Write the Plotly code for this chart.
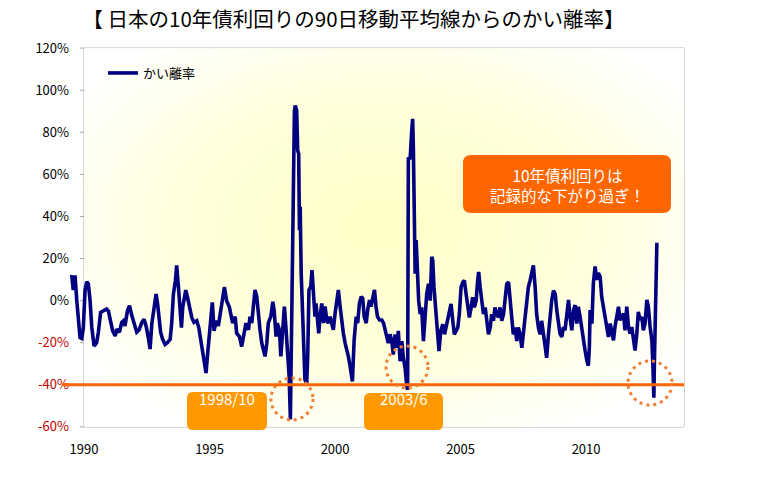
import base64
import plotly.graph_objects as go

# ---------------- data ----------------
years_1989_1995 = [
    1989.48, 1989.51, 1989.57, 1989.64, 1989.71, 1989.77, 1989.84, 1989.91, 1989.97,
    1990.04, 1990.11, 1990.17, 1990.24, 1990.31, 1990.40, 1990.50, 1990.57, 1990.66, 1990.77, 1990.90, 1990.97,
    1991.04, 1991.14, 1991.24, 1991.30, 1991.41, 1991.50, 1991.57, 1991.63, 1991.73, 1991.81, 1991.90, 1991.99,
    1992.10, 1992.19, 1992.30, 1992.39, 1992.47, 1992.56, 1992.63, 1992.70, 1992.79, 1992.87, 1992.93,
    1993.00, 1993.05, 1993.13, 1993.23, 1993.32, 1993.43, 1993.49, 1993.56, 1993.64, 1993.69, 1993.76, 1993.82, 1993.88, 1993.93, 1993.98,
    1994.05, 1994.12, 1994.20, 1994.29, 1994.38, 1994.49, 1994.57, 1994.65, 1994.73, 1994.79, 1994.86, 1994.91, 1994.99,
    1995.05, 1995.11, 1995.18, 1995.26, 1995.35, 1995.44, 1995.52, 1995.59, 1995.68, 1995.79,
]
dev_1989_1995 = [
    11, 12, 5, 12, 0, -8, -17.6, -18, -13,
    5, 9, 8, 0, -13, -21.6, -20, -15, -5.6, -4.8, -4, -5,
    -9.6, -14.4, -16.8, -13.6, -15, -10.4, -9.6, -12, -4.8, -2.4, -7, -11,
    -15, -14, -10.4, -8.8, -12, -17.6, -23, -11, -4, 3.2, -1.6,
    -8, -15, -18.4, -20.8, -20, -18.4, -11, 3.2, 9.6, 16.8, 6.4, -7.2, -12.8, -3.2, 0.8,
    5, 1.6, -4, -8, -10.4, -9.6, -12.8, -19, -25.6, -31, -34.4, -27, -16,
    -5.6, -0.8, -14.4, -9.6, -12, -4, 1.6, 6.4, 0, -3.2,
]

years_1995_2002 = [
    1995.92,
    1996.02, 1996.08, 1996.19, 1996.28, 1996.35, 1996.45, 1996.55, 1996.61, 1996.68, 1996.75, 1996.81, 1996.88, 1996.95,
    1997.01, 1997.08, 1997.15, 1997.21, 1997.28, 1997.34, 1997.44, 1997.52, 1997.57, 1997.65, 1997.70, 1997.78, 1997.84, 1997.92, 1997.98,
    1998.03, 1998.10, 1998.17, 1998.22, 1998.27, 1998.31, 1998.38, 1998.41, 1998.47, 1998.51, 1998.55, 1998.58, 1998.61, 1998.65, 1998.69, 1998.74, 1998.80, 1998.87, 1998.91, 1998.96,
    1999.03, 1999.08, 1999.14, 1999.20, 1999.24, 1999.30, 1999.35, 1999.40, 1999.47, 1999.54, 1999.60, 1999.67, 1999.73, 1999.80, 1999.87, 1999.93,
    2000.00, 2000.07, 2000.13, 2000.20, 2000.27, 2000.33, 2000.40, 2000.47, 2000.53, 2000.60, 2000.69, 2000.76, 2000.84, 2000.90, 2000.97,
    2001.04, 2001.10, 2001.16, 2001.24, 2001.30, 2001.37, 2001.43, 2001.50, 2001.57, 2001.63, 2001.69, 2001.77, 2001.86, 2001.93, 2001.99,
    2002.06, 2002.12,
]
dev_1995_2002 = [
    -10.7,
    -7.6, -15.5, -17.1, -21.8, -17.1, -10.7, -13.9, -7.6, -10.7, -1.3, 5.1, 1.9, -7.6,
    -13.9, -20.2, -23.4, -26.5, -20.2, -10.7, -7.6, -0.5, -4.4, -17.1, -10.7, -13.9, -26.5, -13.9, -2.8,
    -10.7, -26.5, -36.0, -56.5, -5, 27, 90, 92.7, 90.4, 71.4, 69.8, 33.5, 44.6, 13.0, -1.3, -26.5, -37.6, -39.2, -26.5, 5.1,
    6.6, 14.5, 1.9, -7.6, -1.3, -10.7, -15.5, -7.6, -1.3, -10.7, -2.8, -9.2, -10.7, -7.6, -10.7, -13.9,
    -6.0, -1.3, 5.1, -2.8, -10.7, -15.5, -20.2, -23.4, -26.5, -31.3, -38.4, -18.6, -7.6, -10.7, -1.3,
    1.9, 1.1, -7.6, -10.7, -4.4, 0.3, -2.8, 1.9, 5.1, -2.8, -7.6, -9.2, -9.2, -10.7, -13.9,
    -17.1, -20.2,
]

years_2002_2008 = [
    2002.19, 2002.26, 2002.32, 2002.39, 2002.46, 2002.52, 2002.59, 2002.66, 2002.72, 2002.79, 2002.85, 2002.89, 2002.92, 2002.99,
    2003.05, 2003.09, 2003.12, 2003.15, 2003.19, 2003.23, 2003.28, 2003.33, 2003.39, 2003.45, 2003.52, 2003.59, 2003.65, 2003.72, 2003.79, 2003.85, 2003.89, 2003.94,
    2004.01, 2004.08, 2004.14, 2004.21, 2004.29, 2004.36, 2004.42, 2004.49, 2004.55, 2004.62, 2004.69, 2004.75, 2004.82, 2004.89, 2004.95,
    2005.02, 2005.09, 2005.15, 2005.22, 2005.29, 2005.35, 2005.42, 2005.48, 2005.55, 2005.62, 2005.68, 2005.72, 2005.78, 2005.84, 2005.91, 2005.98,
    2006.04, 2006.11, 2006.18, 2006.24, 2006.31, 2006.37, 2006.44, 2006.51, 2006.57, 2006.64, 2006.71, 2006.77, 2006.84, 2006.91, 2006.97,
    2007.04, 2007.10, 2007.17, 2007.24, 2007.30, 2007.37, 2007.44, 2007.50, 2007.57, 2007.64, 2007.70, 2007.77, 2007.84, 2007.90, 2007.97,
    2008.03, 2008.10, 2008.17, 2008.23, 2008.30, 2008.37, 2008.43, 2008.50, 2008.57, 2008.63, 2008.70, 2008.77,
]
dev_2002_2008 = [
    -16, -19.2, -25.6, -16, -22.4, -14.4, -28.8, -19.2, -27.2, -32, -40, -42.4, 68, 67.2,
    80, 86.4, 72, 35.2, 12.8, 28.8, 6.4, 0, -6.4, -3.2, -19.2, -8, 3.2, 8, 0, 20.8, 19.2, 6.4,
    -3.2, -16, -24, -14.4, -11.2, -16, -12.8, -8, -6.4, -1.6, -9.6, -16, -14.4, -12.8, -6.4,
    6.4, 8.8, 9.6, 3.2, -1.6, -8, -3.2, 1.6, -3.2, 0, 9.6, 13.6, 6.4, 0, -6.4, -3.2,
    -8, -16, -12.8, -6.4, -9.6, -3.2, -6.4, -8, -3.2, -9.6, -6.4, 0, 8, 8.8, 0,
    -9.6, -16, -12.8, -19.2, -12.8, -16, -22.4, -16, -9.6, -3.2, 6.4, 9.6, 12.8, 16.8, 6.4,
    -6.4, -12.8, -16, -9.6, -16, -19.2, -27.2, -16, -6.4, 0, 4.8, 3.2,
]

years_2008_2013 = [
    2008.83, 2008.90, 2008.96,
    2009.03, 2009.10, 2009.16, 2009.23, 2009.30, 2009.36, 2009.43, 2009.50, 2009.56, 2009.63, 2009.69, 2009.76, 2009.83, 2009.89, 2009.96,
    2010.03, 2010.09, 2010.13, 2010.16, 2010.23, 2010.29, 2010.36, 2010.42, 2010.49, 2010.56, 2010.62, 2010.69, 2010.76, 2010.82, 2010.89, 2010.96,
    2011.02, 2011.09, 2011.15, 2011.22, 2011.29, 2011.35, 2011.42, 2011.49, 2011.55, 2011.62, 2011.69, 2011.75, 2011.82, 2011.89, 2011.95,
    2012.02, 2012.08, 2012.15, 2012.22, 2012.28, 2012.35, 2012.42, 2012.48, 2012.55, 2012.62, 2012.66, 2012.70, 2012.72, 2012.76, 2012.79, 2012.82,
]
dev_2008_2013 = [
    -4.5, -10.9, -15.7,
    -17.3, -12.5, -14.1, -6.1, 0.3, -7.7, -14.1, -4.5, -2.1, -10.9, -2.9, -7.7, -14.1, -18.9, -23.7,
    -28.5, -30.9, -22.1, -4.5, -10.9, 8.3, 16.3, 9.9, 13.1, 11.5, 1.9, -2.9, -9.3, -14.1, -17.3, -10.9,
    -14.1, -18.9, -12.5, -6.1, -2.9, -9.3, -7.7, -6.1, -14.1, -2.9, -12.5, -15.7, -12.5, -18.9, -23.7,
    -15.7, -5.3, -9.3, -7.7, -14.1, -10.9, 0.3, -2.9, -12.5, -18.9, -30.1, -46.1, -30.1, 1.9, 14.7, 27.5,
]

years = years_1989_1995 + years_1995_2002 + years_2002_2008 + years_2008_2013
deviation = dev_1989_1995 + dev_1995_2002 + dev_2002_2008 + dev_2008_2013

series_name = "かい離率"
y_ticks = [120, 100, 80, 60, 40, 20, 0, -20, -40, -60]
y_tick_labels = ["120%", "100%", "80%", "60%", "40%", "20%", "0%", "-20%", "-40%", "-60%"]
x_ticks = [1990, 1995, 2000, 2005, 2010]
x_tick_labels = ["1990", "1995", "2000", "2005", "2010"]
threshold = -40
title_text = "【 日本の10年債利回りの90日移動平均線からのかい離率】"
callout_text = "10年債利回りは<br>記録的な下がり過ぎ！"
label_1998 = "1998/10"
label_2003 = "2003/6"

# ---------------- layout geometry ----------------
W, H = 767, 478
L, R, T, B = 70, 81, 46, 49
PW, PH = W - L - R, H - T - B
x_range = [1989.44, 2013.98]
y_range = [-61, 121]
x_left_axis = 1990
x_right_edge = 2013.90
FONT = "Noto Sans CJK JP"


def px_to_x(px):
    return x_range[0] + (px - L) / PW * (x_range[1] - x_range[0])


def py_to_y(py):
    return y_range[1] - (py - T) / PH * (y_range[1] - y_range[0])


def py_to_paper(py):
    return 1 - (py - T) / PH


def px_to_paper(px):
    return (px - L) / PW


def rounded_box(px0, py0, px1, py1, r):
    # path in x-data / y-paper coordinates
    X = px_to_x
    Y = py_to_paper
    return (f"M {X(px0 + r)},{Y(py0)} L {X(px1 - r)},{Y(py0)} Q {X(px1)},{Y(py0)} {X(px1)},{Y(py0 + r)} "
            f"L {X(px1)},{Y(py1 - r)} Q {X(px1)},{Y(py1)} {X(px1 - r)},{Y(py1)} "
            f"L {X(px0 + r)},{Y(py1)} Q {X(px0)},{Y(py1)} {X(px0)},{Y(py1 - r)} "
            f"L {X(px0)},{Y(py0 + r)} Q {X(px0)},{Y(py0)} {X(px0 + r)},{Y(py0)} Z")


NEG = "#C00000"
tick_text = [
    (f"<span style='color:{NEG}'>{t}</span>" if v < 0 else t)
    for v, t in zip(y_ticks, y_tick_labels)
]

fig = go.Figure()
fig.add_trace(go.Scatter(
    x=years, y=deviation, mode="lines", name=series_name,
    line=dict(color="#000080", width=3.6),
    hoverinfo="skip",
))

shapes = []
GRID = "#BDBDBD"
FRAME = "#A6A6A6"
for v in y_ticks:
    if v in (120, -60, 0):
        shapes.append(dict(type="line", xref="x", yref="y", x0=x_left_axis, x1=x_right_edge, y0=v, y1=v,
                           line=dict(color=FRAME, width=1), layer="below"))
    else:
        shapes.append(dict(type="line", xref="x", yref="y", x0=x_left_axis, x1=x_right_edge, y0=v, y1=v,
                           line=dict(color=GRID, width=1, dash="3px,3px"), layer="below"))
    shapes.append(dict(type="line", xref="x", yref="y", x0=px_to_x(80), x1=x_left_axis, y0=v, y1=v,
                       line=dict(color=FRAME, width=1), layer="below"))
for xv in x_ticks[1:]:
    shapes.append(dict(type="line", xref="x", yref="y", x0=xv, x1=xv, y0=-60, y1=120,
                       line=dict(color=GRID, width=1, dash="3px,3px"), layer="below"))
for xv in (x_left_axis, x_right_edge):
    shapes.append(dict(type="line", xref="x", yref="y", x0=xv, x1=xv, y0=-60, y1=120,
                       line=dict(color=FRAME, width=1), layer="below"))

# -40% threshold line
shapes.append(dict(type="line", xref="paper", yref="y", x0=px_to_paper(62), x1=px_to_paper(684),
                   y0=threshold, y1=threshold, line=dict(color="#FF6600", width=3), layer="above"))

# dotted circles
DOT = "#F07D32"
for cx, cy, r in [(292, 399, 21), (407, 367, 21), (650, 383, 22)]:
    shapes.append(dict(type="circle", xref="x", yref="y",
                       x0=px_to_x(cx - r), x1=px_to_x(cx + r), y0=py_to_y(cy + r), y1=py_to_y(cy - r),
                       line=dict(color=DOT, width=3, dash="3px,4px"), layer="above"))

# boxes
shapes.append(dict(type="path", xref="x", yref="paper", path=rounded_box(463, 155, 671, 213, 8),
                   fillcolor="#FF6600", line=dict(width=0), layer="above"))
shapes.append(dict(type="path", xref="x", yref="paper", path=rounded_box(187, 392, 267, 430, 6),
                   fillcolor="#FF9900", line=dict(width=0), layer="above"))
shapes.append(dict(type="path", xref="x", yref="paper", path=rounded_box(364, 393, 443, 430, 6),
                   fillcolor="#FF9900", line=dict(width=0), layer="above"))

annotations = [
    dict(x=px_to_x(567), y=py_to_paper(185), xref="x", yref="paper", text=callout_text,
         showarrow=False, align="center", font=dict(family=FONT, size=15.5, color="white")),
    dict(x=px_to_x(227), y=py_to_paper(411), xref="x", yref="paper", text=label_1998,
         showarrow=False, font=dict(family=FONT, size=15, color="white")),
    dict(x=px_to_x(404), y=py_to_paper(411), xref="x", yref="paper", text=label_2003,
         showarrow=False, font=dict(family=FONT, size=15, color="white")),
]

svg = ('<svg xmlns="http://www.w3.org/2000/svg" width="600" height="380" viewBox="0 0 600 380" '
       'preserveAspectRatio="none"><defs><radialGradient id="g" cx="0.5" cy="0.47" r="0.62">'
       '<stop offset="0" stop-color="#FFFFC6"/><stop offset="0.55" stop-color="#FFFFDC"/>'
       '<stop offset="1" stop-color="#FFFFFF"/></radialGradient></defs>'
       '<rect width="600" height="380" fill="url(#g)"/></svg>')
bg_src = "data:image/svg+xml;base64," + base64.b64encode(svg.encode("utf-8")).decode("ascii")

fig.update_layout(
    width=W, height=H,
    margin=dict(l=L, r=R, t=T, b=B, pad=0),
    paper_bgcolor="white", plot_bgcolor="white",
    template="none",
    title=dict(text=title_text, x=353.5 / W, xanchor="center", y=1 - 20 / H, yanchor="middle",
               xref="container", yref="container",
               font=dict(family=FONT, size=20.5, color="#000000")),
    showlegend=True,
    legend=dict(x=px_to_paper(103), y=py_to_paper(73), xanchor="left", yanchor="middle",
                bgcolor="rgba(0,0,0,0)", borderwidth=0,
                font=dict(family=FONT, size=13, color="#000000")),
    xaxis=dict(range=x_range, showgrid=False, zeroline=False, showline=False,
               tickvals=x_ticks, ticktext=x_tick_labels, ticks="",
               tickfont=dict(family=FONT, size=13, color="#000000"), ticklabelstandoff=11),
    yaxis=dict(range=y_range, showgrid=False, zeroline=False, showline=False,
               tickvals=y_ticks, ticktext=tick_text, ticks="",
               tickfont=dict(family=FONT, size=13, color="#000000")),
    shapes=shapes,
    annotations=annotations,
    images=[dict(source=bg_src, xref="x", yref="y", x=x_left_axis, y=120,
                 sizex=x_right_edge - x_left_axis, sizey=180, sizing="stretch",
                 xanchor="left", yanchor="top", layer="below")],
)

fig.write_html(
    "out.html",
    config={"displayModeBar": False},
    post_script="document.body.style.margin='0';document.body.style.padding='0';",
)
